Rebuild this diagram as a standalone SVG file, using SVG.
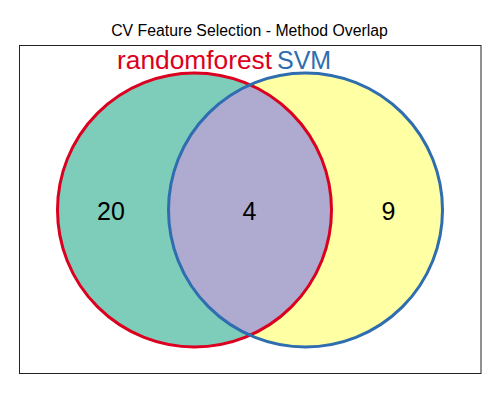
<svg xmlns="http://www.w3.org/2000/svg" width="500" height="420" viewBox="0 0 500 420">
<style>
text{font-family:"Liberation Sans",Arial,sans-serif}
.num{font-size:25px;fill:#000;text-anchor:middle}
.edge{fill:none;stroke-width:3}
</style>
<rect width="500" height="420" fill="#fff"/>
<text x="249.5" y="36" font-size="15.8" text-anchor="middle" fill="#000">CV Feature Selection - Method Overlap</text>
<rect x="19.5" y="45.5" width="461.5" height="328" fill="none" stroke="#222" stroke-width="1"/>
<g id="randomforest">
<circle cx="194.5" cy="210" r="137" fill="#7ECCBA"/>
</g>
<g id="SVM">
<circle cx="305.5" cy="210" r="137" fill="#FFFFA3"/>
</g>
<g id="overlap">
<path d="M250 84.75 A137 137 0 0 1 250 335.25 A137 137 0 0 1 250 84.75Z" fill="#AFAACF"/>
</g>
<g id="connectors">
<circle class="edge" cx="194.5" cy="210" r="137" stroke="#DC0020"/>
<circle class="edge" cx="305.5" cy="210" r="137" stroke="#2E6DB0"/>
</g>
<text x="117" y="69" font-size="25" fill="#DC0020" textLength="155" lengthAdjust="spacingAndGlyphs">randomforest</text>
<text x="277" y="69" font-size="25" fill="#2E6DB0">SVM</text>
<text class="num" x="111" y="220">20</text>
<text class="num" x="249.5" y="220">4</text>
<text class="num" x="388.5" y="220">9</text>
</svg>
